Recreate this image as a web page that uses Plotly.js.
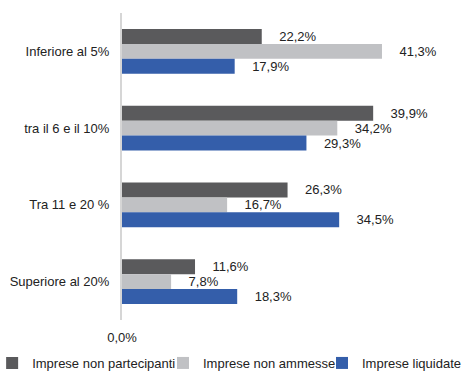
<!DOCTYPE html>
<html>
<head>
<meta charset="utf-8">
<script src="https://cdn.plot.ly/plotly-3.0.1.min.js"></script>
<style>html,body{margin:0;padding:0;background:#fff;}#chart{width:463px;height:371px;}</style>
</head>
<body>
<div id="chart"></div>
<script>
var categories = ["Inferiore al 5%", "tra il 6 e il 10%", "Tra 11 e 20 %", "Superiore al 20%"];
var seriesNames = ["Imprese non partecipanti", "Imprese non ammesse", "Imprese liquidate"];
var nonPartecipanti = [22.2, 39.9, 26.3, 11.6];
var nonAmmesse = [41.3, 34.2, 16.7, 7.8];
var liquidate = [17.9, 29.3, 34.5, 18.3];
var xTickVals = [0];
var xTickText = ["0,0%"];

var colors = ["#5a5a5c", "#c0c1c4", "#345eaa"];
var legendIds = ["legend", "legend2", "legend3"];
var values = [nonPartecipanti, nonAmmesse, liquidate];
var PAD = "\u00a0\u00a0\u00a0\u00a0";

var traces = values.map(function (v, i) {
  return {
    type: "bar",
    orientation: "h",
    name: seriesNames[i],
    y: categories,
    x: v,
    marker: { color: colors[i] },
    texttemplate: PAD + "%{x:.1f}%",
    textposition: "outside",
    constraintext: "none",
    cliponaxis: false,
    textfont: { family: "Liberation Sans, Arial, sans-serif", size: 13, color: "#222" },
    legend: legendIds[i],
    hoverinfo: "skip"
  };
});

function legendAt(xp) {
  return {
    orientation: "h",
    x: xp,
    xanchor: "left",
    y: -0.1889,
    yanchor: "bottom",
    font: { family: "Liberation Sans, Arial, sans-serif", size: 13, color: "#222" },
    bgcolor: "rgba(0,0,0,0)"
  };
}

var layout = {
  width: 463,
  height: 371,
  margin: { l: 122, r: 8, t: 13, b: 51, autoexpand: false },
  paper_bgcolor: "#fff",
  plot_bgcolor: "#fff",
  separators: ",.",
  font: { family: "Liberation Sans, Arial, sans-serif", size: 13, color: "#222" },
  barmode: "group",
  bargap: 0.414,
  bargroupgap: 0,
  showlegend: true,
  legend: legendAt(-0.39),
  legend2: legendAt(0.1231),
  legend3: legendAt(0.6006),
  xaxis: {
    range: [0, 52.9],
    showgrid: false,
    zeroline: false,
    showline: false,
    tickvals: xTickVals,
    ticktext: xTickText,
    ticks: "",
    ticklabelstandoff: 8,
    fixedrange: true
  },
  yaxis: {
    type: "category",
    autorange: "reversed",
    showgrid: false,
    zeroline: false,
    showline: true,
    linecolor: "#d6d6d6",
    linewidth: 2,
    ticks: "",
    ticklabelstandoff: 8,
    fixedrange: true
  }
};

Plotly.newPlot("chart", traces, layout, { displayModeBar: false, staticPlot: true });
</script>
</body>
</html>
